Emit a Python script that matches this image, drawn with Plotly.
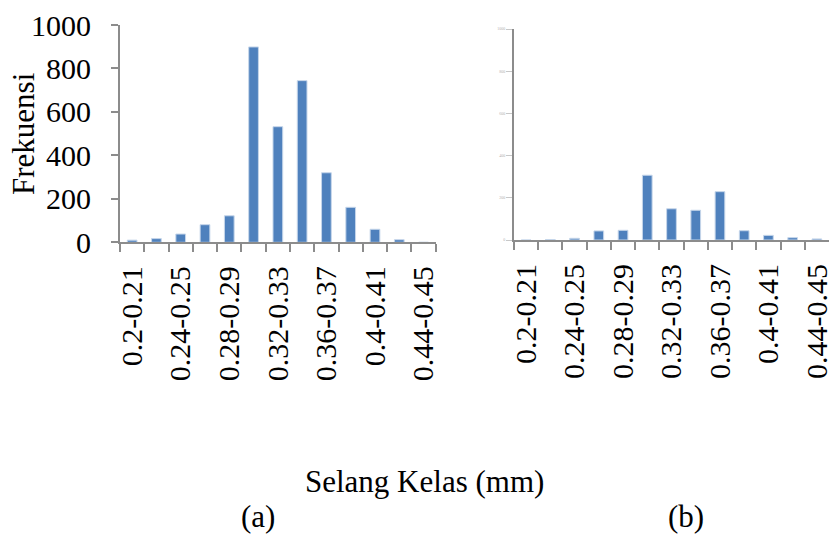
import plotly.graph_objects as go

W, H = 836, 534

# Class intervals (mm) and frequencies for the two samples
classes = ["0.2-0.21", "0.22-0.23", "0.24-0.25", "0.26-0.27", "0.28-0.29",
           "0.3-0.31", "0.32-0.33", "0.34-0.35", "0.36-0.37", "0.38-0.39",
           "0.4-0.41", "0.42-0.43", "0.44-0.45"]
freq_a = [10, 17, 38, 81, 122, 899, 532, 744, 320, 161, 60, 12, 0]
freq_b = [0, 2, 8, 43, 46, 307, 148, 141, 229, 44, 22, 11, 5]

# Only every other class is labelled on the axis
shown_labels = ["0.2-0.21", "0.24-0.25", "0.28-0.29", "0.32-0.33",
                "0.36-0.37", "0.4-0.41", "0.44-0.45"]
tick_text = [c if c in shown_labels else "" for c in classes]

y_ticks = [0, 200, 400, 600, 800, 1000]

BAR = "#4F81BD"
AXIS = "#8C8C8C"
FONT = "Liberation Serif"


def px_x(a, b):
    return [a / W, b / W]


def px_y(top, bottom):
    return [1 - bottom / H, 1 - top / H]


fig = go.Figure()

fig.add_trace(go.Bar(x=classes, y=freq_a, marker=dict(color=BAR, line=dict(color="#C6D6EA", width=1)),
                     width=0.4, xaxis="x", yaxis="y", showlegend=False))
fig.add_trace(go.Bar(x=classes, y=freq_b, marker=dict(color=BAR, line=dict(color="#C6D6EA", width=1)),
                     width=0.4, xaxis="x2", yaxis="y2", showlegend=False))

xcommon = dict(
    type="category", categoryorder="array", categoryarray=classes,
    tickvals=classes, ticktext=tick_text, tickangle=-90,
    tickson="boundaries", ticks="outside", ticklen=8, tickwidth=2, tickcolor=AXIS,
    showline=True, linecolor=AXIS, linewidth=2, showgrid=False, zeroline=False,
    range=[-0.5, 12.5], tickfont=dict(family=FONT, size=30, color="black"),
    automargin=False, ticklabelstandoff=10,
)

fig.update_layout(
    width=W, height=H,
    margin=dict(l=0, r=0, t=0, b=0, autoexpand=False),
    paper_bgcolor="white", plot_bgcolor="white",
    bargap=0.6,
    xaxis=dict(domain=px_x(120, 435.7), anchor="y", **xcommon),
    xaxis2=dict(domain=px_x(514, 829), anchor="y2", **xcommon),
    yaxis=dict(domain=px_y(25, 242.3), anchor="x", range=[0, 1000],
               tickvals=y_ticks, ticks="outside", ticklen=7, tickwidth=2, tickcolor=AXIS,
               showline=True, linecolor=AXIS, linewidth=2, showgrid=False, zeroline=False,
               tickfont=dict(family=FONT, size=30, color="black"),
               automargin=False, ticklabelstandoff=14),
    yaxis2=dict(domain=px_y(29, 240), anchor="x2", range=[0, 1000],
                tickvals=y_ticks, ticks="outside", ticklen=6, tickwidth=1, tickcolor="#C8C8C8",
                showline=True, linecolor=AXIS, linewidth=2, showgrid=False, zeroline=False,
                tickfont=dict(family=FONT, size=4, color="#B0B0B0"), automargin=False),
    annotations=[
        dict(text="Frekuensi", textangle=-90, x=24 / W, y=1 - 134 / H, xref="paper", yref="paper",
             xanchor="center", yanchor="middle",
             showarrow=False, font=dict(family=FONT, size=31, color="black")),
        dict(text="Selang Kelas (mm)", x=424 / W, y=1 - 481 / H, xref="paper", yref="paper",
             xanchor="center", yanchor="middle",
             showarrow=False, font=dict(family=FONT, size=31, color="black")),
        dict(text="(a)", x=258 / W, y=1 - 516 / H, xref="paper", yref="paper",
             xanchor="center", yanchor="middle",
             showarrow=False, font=dict(family=FONT, size=31, color="black")),
        dict(text="(b)", x=686 / W, y=1 - 516 / H, xref="paper", yref="paper",
             xanchor="center", yanchor="middle",
             showarrow=False, font=dict(family=FONT, size=31, color="black")),
    ],
)

fig.write_html("out.html")
